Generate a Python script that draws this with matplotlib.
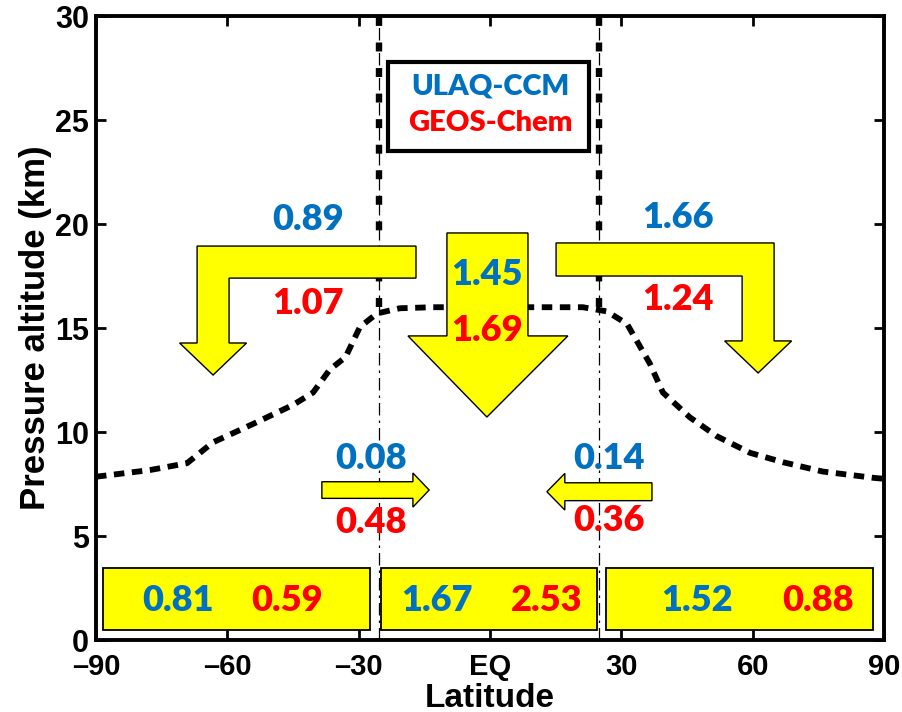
import numpy as np
import matplotlib.pyplot as plt
from matplotlib.patches import Polygon, Rectangle

plt.rcParams['font.family'] = ['Liberation Sans', 'DejaVu Sans']
plt.rcParams['font.weight'] = 'bold'

BLUE = '#0070C0'
RED = '#FF0000'
YELLOW = '#FFFF00'
NUMFONT = ['Lato', 'DejaVu Sans']

# tropopause (lat, km)
trop_lat = [-90, -77.7, -69.2, -63.3, -54, -45, -40.4, -36.6, -33, -29.7, -25.8, -20.6,
            -13, 0, 13, 21.2, 26.7, 31.3, 34.3, 36.5, 39.5, 45.7, 51.8, 59.4, 66.9, 76, 87.5, 90]
trop_alt = [7.85, 8.17, 8.5, 9.5, 10.4, 11.3, 11.9, 13.0, 13.6, 15.05, 15.7, 15.95,
            16.0, 16.0, 16.0, 16.0, 15.8, 15.2, 14.1, 13.3, 11.9, 10.7, 9.8, 9.0, 8.55, 8.1, 7.8, 7.75]

# tropical pipe edges
pipe_lat = [-25.3, 25.0]
trop_top = 16.0

# bent arrows: end of bar, outer/inner edge of shaft, bar top/bottom, head base, head half width, tip
bent_end = [-16.9, 15.1]
bent_out = [-66.9, 64.9]
bent_in = [-59.6, 57.6]
bent_top = [18.94, 19.09]
bent_bot = [17.4, 17.5]
bent_head = [14.28, 14.38]
bent_half = [7.65, 7.65]
bent_tip = [12.74, 12.84]
bent_ulaq = ['0.89', '1.66']
bent_geos = ['1.07', '1.24']
bent_txt_x = [-41.6, 42.9]
bent_ulaq_y = [20.2, 20.3]
bent_geos_y = [16.2, 16.35]

# central downward arrow
down_shaft = (-9.83, 8.68)
down_top = 19.57
down_head = 14.62
down_head_x = (-18.73, 17.8)
down_tip = (-0.7, 10.72)
down_ulaq, down_geos = '1.45', '1.69'
down_ulaq_y, down_geos_y = 17.55, 14.9

# small horizontal arrows (troposphere exchange)
h_tail = [-38.4, 37.0]
h_base = [-17.6, 17.1]
h_tip = [-13.9, 13.0]
h_yc = [7.21, 7.13]
h_shaft = [0.40, 0.43]
h_headw = [0.82, 0.88]
h_ulaq = ['0.08', '0.14']
h_geos = ['0.48', '0.36']
h_txt_x = [-27.2, 27.2]
h_ulaq_y = [8.75, 8.75]
h_geos_y = [5.67, 5.77]

# boxes near the surface
box_x0 = [-88.4, -24.9, 26.5]
box_x1 = [-27.4, 24.4, 87.5]
box_y0, box_y1 = 0.48, 3.46
box_ulaq = ['0.81', '1.67', '1.52']
box_geos = ['0.59', '2.53', '0.88']
box_ulaq_x = [-71.3, -12.1, 47.3]
box_geos_x = [-46.4, 13.0, 74.9]
box_txt_y = 1.92

xticks = [-90, -60, -30, 0, 30, 60, 90]
xticklabels = ['\u201390', '\u201360', '\u201330', 'EQ', '30', '60', '90']
yticks = [0, 5, 10, 15, 20, 25, 30]

fig = plt.figure(figsize=(9.02, 7.12), dpi=100)
ax = fig.add_axes([0.1064, 0.1011, 0.8736, 0.8764])
ax.set_xlim(-90, 90)
ax.set_ylim(0, 30)


def num(x, y, s, c, size=26):
    ax.text(x, y, s, color=c, fontsize=size, fontweight='heavy', family=NUMFONT,
            ha='center', va='center', zorder=6)


# pipe edges: thin dash-dot all the way, thick above the tropopause
for lat in pipe_lat:
    ax.plot([lat, lat], [0, 30], color='k', lw=0.9, ls=(0, (10, 4, 2, 4)), zorder=1)
    ax.plot([lat, lat], [trop_top, 30], color='k', lw=4.6, ls=(0, (1.4, 2.6)), zorder=1)

ax.plot(trop_lat, trop_alt, color='k', lw=4.2, ls=(0, (1.8, 1.3)), zorder=2)

# bent arrows
for i in range(2):
    d = np.sign(bent_out[i] - bent_in[i])
    xc = (bent_out[i] + bent_in[i]) / 2
    verts = [(bent_end[i], bent_top[i]), (bent_out[i], bent_top[i]), (bent_out[i], bent_head[i]),
             (xc + d * bent_half[i], bent_head[i]), (xc, bent_tip[i]),
             (xc - d * bent_half[i], bent_head[i]), (bent_in[i], bent_head[i]),
             (bent_in[i], bent_bot[i]), (bent_end[i], bent_bot[i])]
    ax.add_patch(Polygon(verts, closed=True, fc=YELLOW, ec='k', lw=1.0, zorder=3))
    num(bent_txt_x[i], bent_ulaq_y[i], bent_ulaq[i], BLUE)
    num(bent_txt_x[i], bent_geos_y[i], bent_geos[i], RED)

# downward arrow
verts = [(down_shaft[0], down_top), (down_shaft[1], down_top), (down_shaft[1], down_head),
         (down_head_x[1], down_head), down_tip, (down_head_x[0], down_head),
         (down_shaft[0], down_head)]
ax.add_patch(Polygon(verts, closed=True, fc=YELLOW, ec='k', lw=1.0, zorder=3))
num(down_tip[0], down_ulaq_y, down_ulaq, BLUE)
num(down_tip[0], down_geos_y, down_geos, RED)

# horizontal arrows
for i in range(2):
    y = h_yc[i]
    verts = [(h_tail[i], y + h_shaft[i]), (h_base[i], y + h_shaft[i]), (h_base[i], y + h_headw[i]),
             (h_tip[i], y), (h_base[i], y - h_headw[i]), (h_base[i], y - h_shaft[i]),
             (h_tail[i], y - h_shaft[i])]
    ax.add_patch(Polygon(verts, closed=True, fc=YELLOW, ec='k', lw=1.0, zorder=3))
    num(h_txt_x[i], h_ulaq_y[i], h_ulaq[i], BLUE)
    num(h_txt_x[i], h_geos_y[i], h_geos[i], RED)

# surface boxes
for i in range(3):
    ax.add_patch(Rectangle((box_x0[i], box_y0), box_x1[i] - box_x0[i], box_y1 - box_y0,
                           fc=YELLOW, ec='k', lw=1.3, zorder=3))
    num(box_ulaq_x[i], box_txt_y, box_ulaq[i], BLUE)
    num(box_geos_x[i], box_txt_y, box_geos[i], RED)

# legend box
ax.add_patch(Rectangle((-23.3, 23.5), 45.9, 4.3, fc='white', ec='k', lw=3.0, zorder=4))
num(0, 26.6, 'ULAQ-CCM', BLUE, size=21)
num(0, 24.85, 'GEOS-Chem', RED, size=21)

ax.set_xticks(xticks)
ax.set_xticklabels(xticklabels)
ax.set_yticks(yticks)
ax.tick_params(direction='in', length=7, width=2, top=True, right=True, labelsize=21)
ax.tick_params(axis='x', pad=9)
ax.tick_params(axis='y', pad=5)
ax.tick_params(axis='y', labelsize=22)
for s in ax.spines.values():
    s.set_linewidth(2.8)
    s.set_zorder(7)

ax.set_xlabel('Latitude', fontsize=24, fontweight='bold')
ax.xaxis.label.set_va('baseline')
ax.xaxis.set_label_coords(0.5, -0.107)
ax.set_ylabel('Pressure altitude (km)', fontsize=25, fontweight='bold', labelpad=2)

fig.savefig('out.png', dpi=100)
